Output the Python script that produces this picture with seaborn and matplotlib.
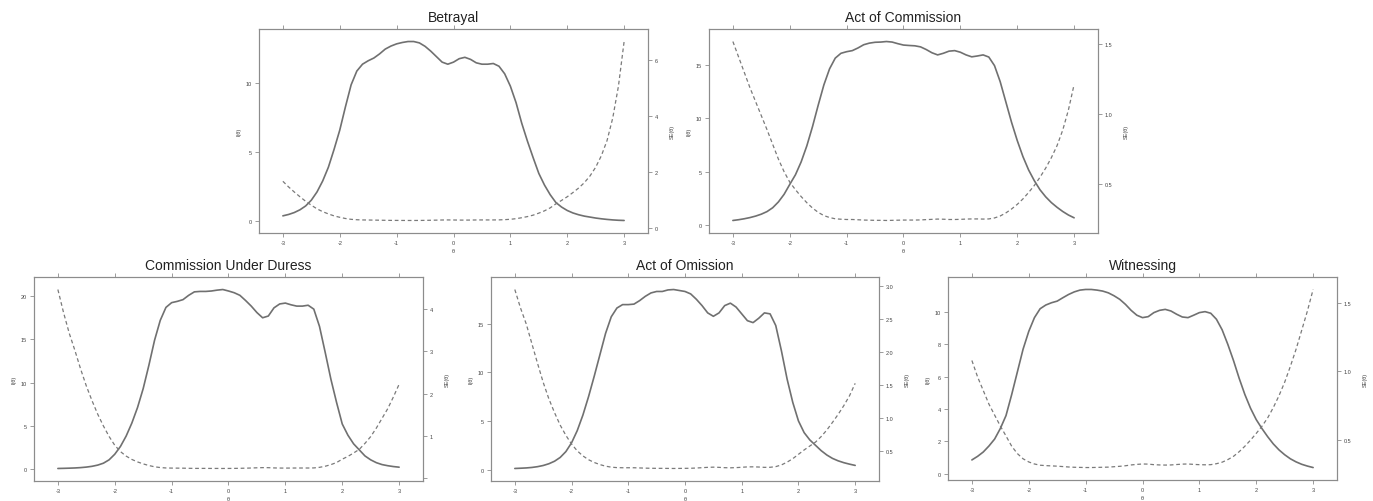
import numpy as np
import pandas as pd
import matplotlib
matplotlib.use("Agg")
import matplotlib.pyplot as plt
import seaborn as sns

# ---------------- data ----------------
theta = np.round(np.linspace(-3, 3, 61), 1)

titles = ["Betrayal", "Act of Commission", "Commission Under Duress",
          "Act of Omission", "Witnessing"]

betrayal_info = [0.36, 0.46, 0.6, 0.8, 1.08, 1.5, 2.1, 2.9, 3.9, 5.2,
                 6.6, 8.3, 9.9, 10.9, 11.4, 11.65, 11.85, 12.15, 12.5, 12.72,
                 12.88, 12.98, 13.05, 13.05, 12.95, 12.7, 12.35, 11.95, 11.55, 11.4,
                 11.55, 11.8, 11.9, 11.75, 11.5, 11.4, 11.4, 11.45, 11.25, 10.7,
                 9.8, 8.6, 7.1, 5.8, 4.6, 3.45, 2.6, 1.9, 1.33, 1.0,
                 0.75, 0.57, 0.44, 0.34, 0.27, 0.2, 0.145, 0.1, 0.064, 0.038, 0.023]
betrayal_se = [1.67, 1.47, 1.29, 1.12, 0.96, 0.82, 0.69, 0.59, 0.51, 0.44,
               0.39, 0.347, 0.318, 0.303, 0.296, 0.293, 0.29, 0.287, 0.283, 0.28,
               0.279, 0.278, 0.277, 0.277, 0.278, 0.281, 0.285, 0.289, 0.294, 0.296,
               0.294, 0.291, 0.29, 0.292, 0.295, 0.296, 0.296, 0.296, 0.298, 0.306,
               0.319, 0.341, 0.375, 0.415, 0.466, 0.538, 0.62, 0.725, 0.867, 0.99,
               1.12, 1.27, 1.43, 1.62, 1.86, 2.17, 2.58, 3.12, 3.92, 5.05, 6.64]

commission_info = [0.43, 0.5, 0.59, 0.7, 0.84, 1.02, 1.26, 1.62, 2.16, 2.87,
                   3.8, 4.7, 5.9, 7.4, 9.2, 11.2, 13.1, 14.6, 15.6, 16.05,
                   16.2, 16.3, 16.55, 16.85, 17.0, 17.08, 17.1, 17.15, 17.1, 16.95,
                   16.82, 16.78, 16.75, 16.65, 16.4, 16.1, 15.9, 16.05, 16.25, 16.3,
                   16.15, 15.9, 15.72, 15.8, 15.9, 15.7, 14.9, 13.4, 11.5, 9.6,
                   7.9, 6.4, 5.15, 4.15, 3.3, 2.64, 2.1, 1.66, 1.27, 0.94, 0.68]
commission_se = [1.52, 1.41, 1.3, 1.19, 1.09, 0.99, 0.89, 0.785, 0.68, 0.59,
                 0.515, 0.461, 0.412, 0.368, 0.33, 0.299, 0.276, 0.262, 0.253, 0.25,
                 0.248, 0.248, 0.246, 0.244, 0.243, 0.242, 0.242, 0.241, 0.242, 0.243,
                 0.244, 0.244, 0.244, 0.245, 0.247, 0.249, 0.251, 0.25, 0.248, 0.248,
                 0.249, 0.251, 0.252, 0.252, 0.251, 0.252, 0.259, 0.273, 0.295, 0.323,
                 0.356, 0.395, 0.441, 0.491, 0.55, 0.615, 0.69, 0.776, 0.887, 1.031, 1.213]

duress_info = [0.05, 0.065, 0.085, 0.11, 0.15, 0.21, 0.3, 0.44, 0.66, 1.05,
               1.7, 2.6, 3.8, 5.3, 7.1, 9.3, 12.0, 14.9, 17.2, 18.7,
               19.25, 19.4, 19.6, 20.1, 20.5, 20.55, 20.55, 20.6, 20.7, 20.77,
               20.6, 20.4, 20.1, 19.5, 18.85, 18.1, 17.5, 17.7, 18.65, 19.1,
               19.2, 19.0, 18.85, 18.85, 18.95, 18.5, 16.5, 13.5, 10.4, 7.7,
               5.2, 3.9, 2.9, 2.2, 1.5, 1.05, 0.72, 0.5, 0.37, 0.27, 0.2]
duress_se = [4.47, 3.92, 3.43, 3.02, 2.58, 2.18, 1.83, 1.51, 1.23, 0.98,
             0.77, 0.62, 0.513, 0.434, 0.375, 0.328, 0.289, 0.259, 0.241, 0.231,
             0.228, 0.227, 0.226, 0.223, 0.221, 0.221, 0.221, 0.22, 0.22, 0.219,
             0.22, 0.221, 0.223, 0.226, 0.23, 0.235, 0.239, 0.238, 0.232, 0.229,
             0.228, 0.229, 0.23, 0.23, 0.23, 0.232, 0.246, 0.272, 0.31, 0.36,
             0.44, 0.506, 0.587, 0.674, 0.816, 0.976, 1.18, 1.41, 1.64, 1.92, 2.22]

omission_info = [0.115, 0.14, 0.17, 0.22, 0.3, 0.42, 0.6, 0.86, 1.25, 1.85,
                 2.75, 4.0, 5.6, 7.5, 9.6, 11.8, 14.0, 15.7, 16.6, 16.95,
                 16.95, 17.0, 17.36, 17.8, 18.15, 18.3, 18.3, 18.46, 18.5, 18.4,
                 18.3, 18.05, 17.5, 16.85, 16.1, 15.75, 16.1, 16.85, 17.1, 16.7,
                 16.0, 15.3, 15.1, 15.55, 16.1, 16.0, 14.8, 12.2, 9.3, 6.9,
                 5.0, 3.8, 3.05, 2.5, 1.95, 1.5, 1.15, 0.9, 0.71, 0.56, 0.43]
omission_se = [2.95, 2.67, 2.43, 2.13, 1.83, 1.54, 1.29, 1.08, 0.89, 0.735,
               0.603, 0.5, 0.423, 0.365, 0.323, 0.291, 0.267, 0.252, 0.245, 0.243,
               0.243, 0.243, 0.24, 0.237, 0.235, 0.234, 0.234, 0.233, 0.232, 0.233,
               0.234, 0.235, 0.239, 0.244, 0.249, 0.252, 0.249, 0.244, 0.242, 0.245,
               0.25, 0.256, 0.257, 0.254, 0.249, 0.25, 0.26, 0.286, 0.328, 0.381,
               0.447, 0.513, 0.573, 0.632, 0.716, 0.816, 0.932, 1.054, 1.187, 1.336, 1.525]

witness_info = [0.86, 1.08, 1.35, 1.72, 2.15, 2.8, 3.6, 4.9, 6.3, 7.7,
                8.8, 9.65, 10.2, 10.43, 10.57, 10.67, 10.88, 11.08, 11.24, 11.35,
                11.39, 11.39, 11.35, 11.29, 11.18, 11.0, 10.78, 10.47, 10.1, 9.8,
                9.65, 9.71, 9.96, 10.1, 10.16, 10.06, 9.86, 9.69, 9.65, 9.8,
                9.96, 10.02, 9.92, 9.55, 8.9, 8.0, 7.0, 5.9, 4.9, 4.05,
                3.35, 2.8, 2.3, 1.85, 1.48, 1.18, 0.93, 0.74, 0.59, 0.48, 0.39]
witness_se = [1.08, 0.96, 0.86, 0.76, 0.68, 0.6, 0.527, 0.452, 0.398, 0.36,
              0.337, 0.322, 0.313, 0.31, 0.308, 0.306, 0.303, 0.3, 0.298, 0.297,
              0.296, 0.296, 0.297, 0.298, 0.299, 0.302, 0.305, 0.309, 0.315, 0.319,
              0.322, 0.321, 0.317, 0.315, 0.314, 0.315, 0.318, 0.321, 0.322, 0.319,
              0.317, 0.316, 0.317, 0.324, 0.335, 0.354, 0.378, 0.412, 0.452, 0.497,
              0.546, 0.598, 0.659, 0.735, 0.822, 0.921, 1.037, 1.162, 1.302, 1.443, 1.6]

info_series = [betrayal_info, commission_info, duress_info, omission_info, witness_info]
se_series = [betrayal_se, commission_se, duress_se, omission_se, witness_se]

x_ticks = [-3, -2, -1, 0, 1, 2, 3]
info_ticks = [[0, 5, 10], [0, 5, 10, 15], [0, 5, 10, 15, 20], [0, 5, 10, 15],
              [0, 2, 4, 6, 8, 10]]
se_ticks = [[0, 2, 4, 6], [0.5, 1.0, 1.5], [0, 1, 2, 3, 4],
            [0.5, 1.0, 1.5, 2.0, 2.5, 3.0], [0.5, 1.0, 1.5]]
se_ticklabels = [["0", "2", "4", "6"], ["0.5", "1.0", "1.5"], ["", "1", "2", "3", "4"],
                 ["0.5", "1.0", "1.5", "2.0", "2.5", "3.0"], ["0.5", "1.0", "1.5"]]

# ---------------- layout ----------------
W, H = 1373, 502
boxes = [(259, 648, 30, 234), (709, 1098, 30, 234),
         (34, 423, 278, 482), (491, 879, 278, 482), (948, 1337, 278, 481)]

sns.set_theme(style="white")
plt.rcParams["font.family"] = ["Liberation Sans", "DejaVu Sans"]

frame_col = "#8c8c8c"
line_col = "#707070"
text_col = "#444444"

fig = plt.figure(figsize=(W / 100, H / 100), dpi=100)
fig.patch.set_facecolor("white")


def padded(vals, frac=0.07):
    lo, hi = min(vals), max(vals)
    p = (hi - lo) * frac
    return lo - p, hi + p


for i in range(5):
    l, r, t, b = boxes[i]
    ax = fig.add_axes([l / W, 1 - b / H, (r - l) / W, (b - t) / H])
    df = pd.DataFrame({"theta": theta, "info": info_series[i], "se": se_series[i]})
    sns.lineplot(data=df, x="theta", y="info", ax=ax, color=line_col, lw=1.2,
                 estimator=None, sort=False)
    ax.lines[0].set_solid_joinstyle("round")
    ax2 = ax.twinx()
    sns.lineplot(data=df, x="theta", y="se", ax=ax2, color="#7a7a7a", lw=0.9,
                 estimator=None, sort=False)
    ax2.lines[0].set_dashes([3, 2.2])

    ax.set_xlim(*padded(list(theta)))
    ax.set_ylim(*padded(info_series[i]))
    ax2.set_ylim(*padded(se_series[i]))

    ax.set_xticks(x_ticks)
    ax.set_xticklabels([str(v) for v in x_ticks])
    ax.set_yticks(info_ticks[i])
    ax.set_yticklabels([str(v) for v in info_ticks[i]])
    ax2.set_yticks(se_ticks[i])
    ax2.set_yticklabels(se_ticklabels[i])

    for a in (ax, ax2):
        for s in a.spines.values():
            s.set_color(frame_col)
            s.set_linewidth(0.8)
        a.tick_params(colors=frame_col, labelcolor=text_col, labelsize=4,
                      length=3, width=0.6, direction="out", pad=2)
    ax.tick_params(axis="x", top=True, labeltop=False, bottom=True)
    ax.tick_params(axis="y", left=True, right=False)
    ax2.tick_params(axis="y", right=True, left=False)

    ax.set_xlabel("θ", fontsize=4, color=text_col, labelpad=2)
    ax.set_ylabel("I(θ)", fontsize=4, color=text_col, labelpad=3)
    ax2.set_ylabel("SE(θ)", fontsize=4, color=text_col, labelpad=8)
    ax.set_title(titles[i], fontsize=10, color="#222222", pad=6)
    ax.grid(False)
    ax2.grid(False)

fig.savefig("out.png", dpi=100, facecolor="white")
